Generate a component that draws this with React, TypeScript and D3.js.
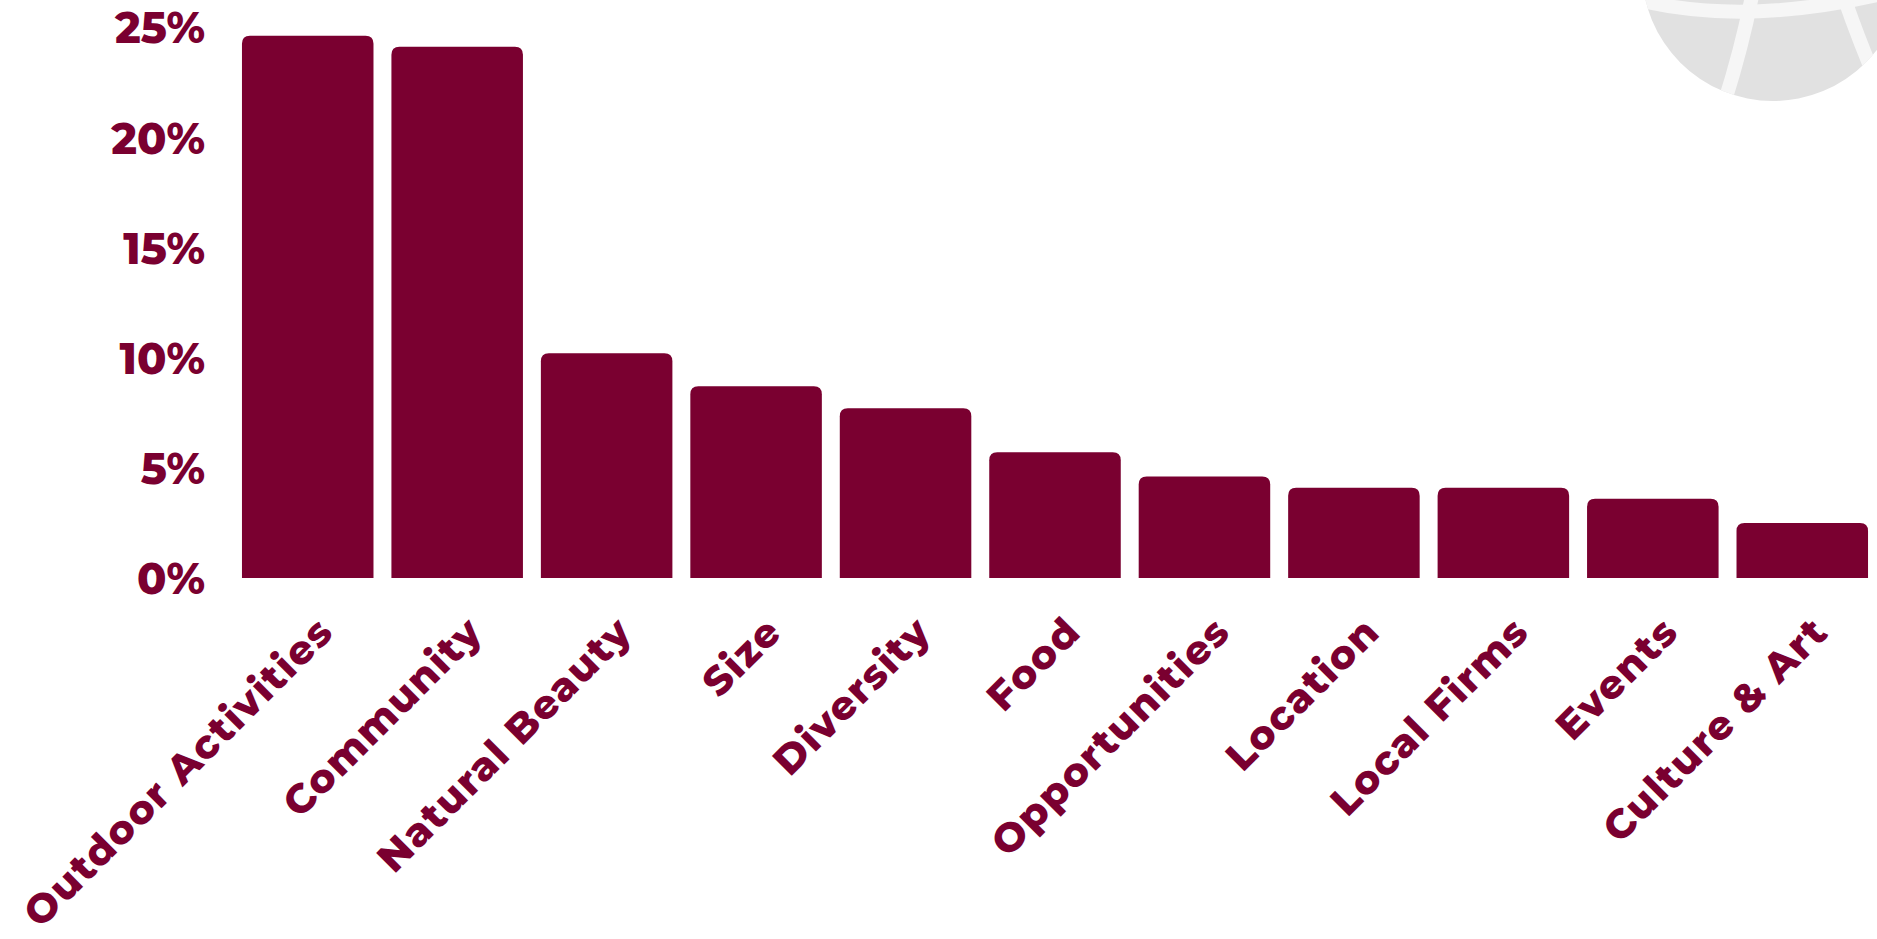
import React from "react";
import * as d3 from "d3";

const categories = [
  "Outdoor Activities",
  "Community",
  "Natural Beauty",
  "Size",
  "Diversity",
  "Food",
  "Opportunities",
  "Location",
  "Local Firms",
  "Events",
  "Culture & Art",
];
const shares = [24.6, 24.1, 10.2, 8.7, 7.7, 5.7, 4.6, 4.1, 4.1, 3.6, 2.5];
const yTicks = [0, 5, 10, 15, 20, 25];

const W = 1877;
const H = 939;
const COLOR = "#7a0030";
const FONT = "Montserrat, Inter, 'Noto Sans', sans-serif";

function barPath(x: number, y: number, w: number, h: number, r: number) {
  const rr = Math.min(r, h, w / 2);
  return `M${x},${y + h}V${y + rr}Q${x},${y} ${x + rr},${y}H${x + w - rr}Q${x + w},${y} ${x + w},${y + rr}V${y + h}Z`;
}

export default function App() {
  const x = d3
    .scaleBand<string>()
    .domain(categories)
    .range([233, 1877])
    .paddingInner(0.12)
    .paddingOuter(0.06);
  const y = d3.scaleLinear().domain([0, 25]).range([578, 27]);

  return (
    <svg
      width={W}
      height={H}
      viewBox={`0 0 ${W} ${H}`}
      style={{ position: "absolute", left: 0, top: 0, display: "block", background: "#ffffff" }}
    >
      <defs>
        <clipPath id="globeClip">
          <circle cx={1773} cy={-30} r={131} />
        </clipPath>
      </defs>
      <g>
        <circle cx={1773} cy={-30} r={131} fill="#e1e1e1" />
        <g clipPath="url(#globeClip)" fill="none" stroke="#f6f6f6" strokeWidth={14}>
          <path d="M1630,-2 Q1742,28 1890,-8" />
          <path d="M1758,-40 Q1748,30 1722,110" />
          <path d="M1832,-40 Q1850,20 1880,90" />
        </g>
      </g>

      {categories.map((c, i) => {
        const bx = x(c)!;
        const bw = x.bandwidth();
        const by = y(shares[i]);
        return <path key={c} d={barPath(bx, by, bw, y(0) - by, 8)} fill={COLOR} />;
      })}

      {yTicks.map((t) => (
        <text
          key={t}
          x={205}
          y={y(t)}
          dy="0.38em"
          textAnchor="end"
          fill={COLOR}
          fontFamily={FONT}
          fontWeight={800}
          fontSize={43}
        >
          {`${t}%`}
        </text>
      ))}

      {categories.map((c) => {
        const cx = x(c)! + x.bandwidth() / 2;
        return (
          <text
            key={c}
            transform={`translate(${cx + 28},${634}) rotate(-45)`}
            textAnchor="end"
            fill={COLOR}
            fontFamily={FONT}
            fontWeight={800}
            fontSize={40}
            letterSpacing={1.5}
          >
            {c}
          </text>
        );
      })}
    </svg>
  );
}
